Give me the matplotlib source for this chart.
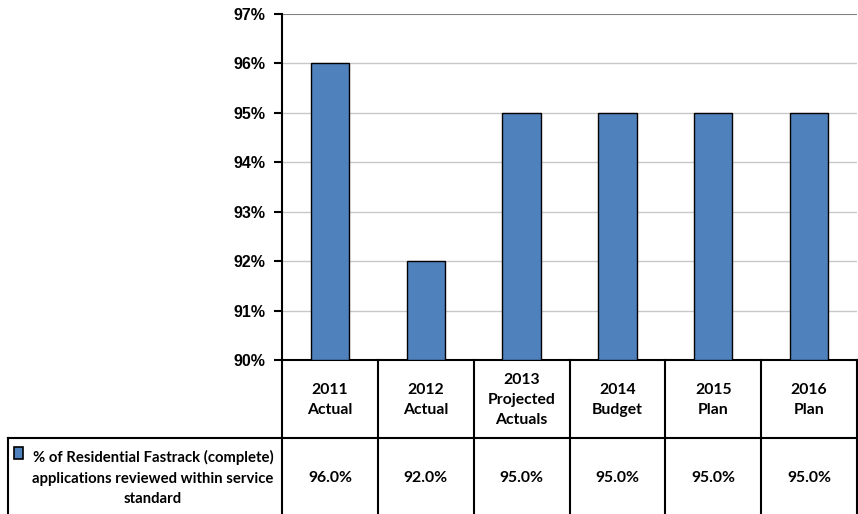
import matplotlib
matplotlib.use("Agg")
import matplotlib.pyplot as plt
from matplotlib.lines import Line2D
from matplotlib.patches import Rectangle

# values (percent)
categories = ["2011\nActual", "2012\nActual", "2013\nProjected\nActuals",
              "2014\nBudget", "2015\nPlan", "2016\nPlan"]
values = [96.0, 92.0, 95.0, 95.0, 95.0, 95.0]
series_label = "% of Residential Fastrack (complete)\napplications reviewed within service\nstandard"
yticks = [90, 91, 92, 93, 94, 95, 96, 97]

BAR = "#4F81BD"
W, H = 858, 514

fig = plt.figure(figsize=(W / 100, H / 100), dpi=100)

def fx(px):
    return px / W

def fy(py):
    return 1 - py / H

ax_left, ax_right, ax_top, ax_bot = 282, 857, 14, 360
ax = fig.add_axes([fx(ax_left), fy(ax_bot), fx(ax_right - ax_left), fy(ax_top) - fy(ax_bot)])

x = list(range(len(values)))
ax.bar(x, [v - 90 for v in values], bottom=90, width=0.4, color=BAR,
       edgecolor="black", linewidth=1.0, zorder=3)
ax.set_xlim(-0.5, len(values) - 0.5)
ax.set_ylim(90, 97)
ax.set_yticks(yticks)
ax.set_yticklabels([f"{t}%" for t in yticks], fontsize=11.5, fontweight="bold",
                   family="Liberation Sans")
ax.set_xticks([])
for t in yticks[1:-1]:
    ax.axhline(t, color="#c8c8c8", linewidth=1.0, zorder=1)
ax.axhline(97, color="#808080", linewidth=1.5, zorder=1)
for s in ["top", "right"]:
    ax.spines[s].set_visible(False)
ax.spines["left"].set_linewidth(1.5)
ax.spines["bottom"].set_linewidth(1.5)
ax.tick_params(axis="y", length=6, width=1.5, pad=6)

# data table under the plot
row1_bot = 438
col_w = (ax_right - ax_left) / len(values)
tfont = dict(family=["Lato", "DejaVu Sans"], fontweight="bold", fontsize=11.3)

def vline(px, y0, y1, lw=1.5):
    fig.add_artist(Line2D([fx(px), fx(px)], [fy(y0), fy(y1)], color="black",
                          linewidth=lw, transform=fig.transFigure))

def hline(y, x0, x1, lw=1.5):
    fig.add_artist(Line2D([fx(x0), fx(x1)], [fy(y), fy(y)], color="black",
                          linewidth=lw, transform=fig.transFigure))

vline(ax_left, ax_bot, H)
for i in range(1, len(values) + 1):
    vline(ax_left + i * col_w, ax_bot, H)
hline(row1_bot, 8, ax_right)
vline(8, row1_bot, H)

for i, (cat, v) in enumerate(zip(categories, values)):
    cx = ax_left + (i + 0.5) * col_w
    fig.text(fx(cx), fy((ax_bot + row1_bot) / 2 + 1), cat, ha="center",
             va="center", linespacing=1.5, **tfont)
    fig.text(fx(cx), fy((row1_bot + H) / 2 + 2), f"{v:.1f}%", ha="center",
             va="center", **tfont)

fig.text(fx(153), fy(478), series_label, ha="center", va="center",
         linespacing=1.6, family=["Lato", "DejaVu Sans"], fontweight="bold",
         fontsize=10.7)
fig.add_artist(Rectangle((fx(14), fy(459)), fx(9), fy(447) - fy(459),
                         facecolor=BAR, edgecolor="black", linewidth=1.2,
                         transform=fig.transFigure))

fig.savefig("out.png", dpi=100)
